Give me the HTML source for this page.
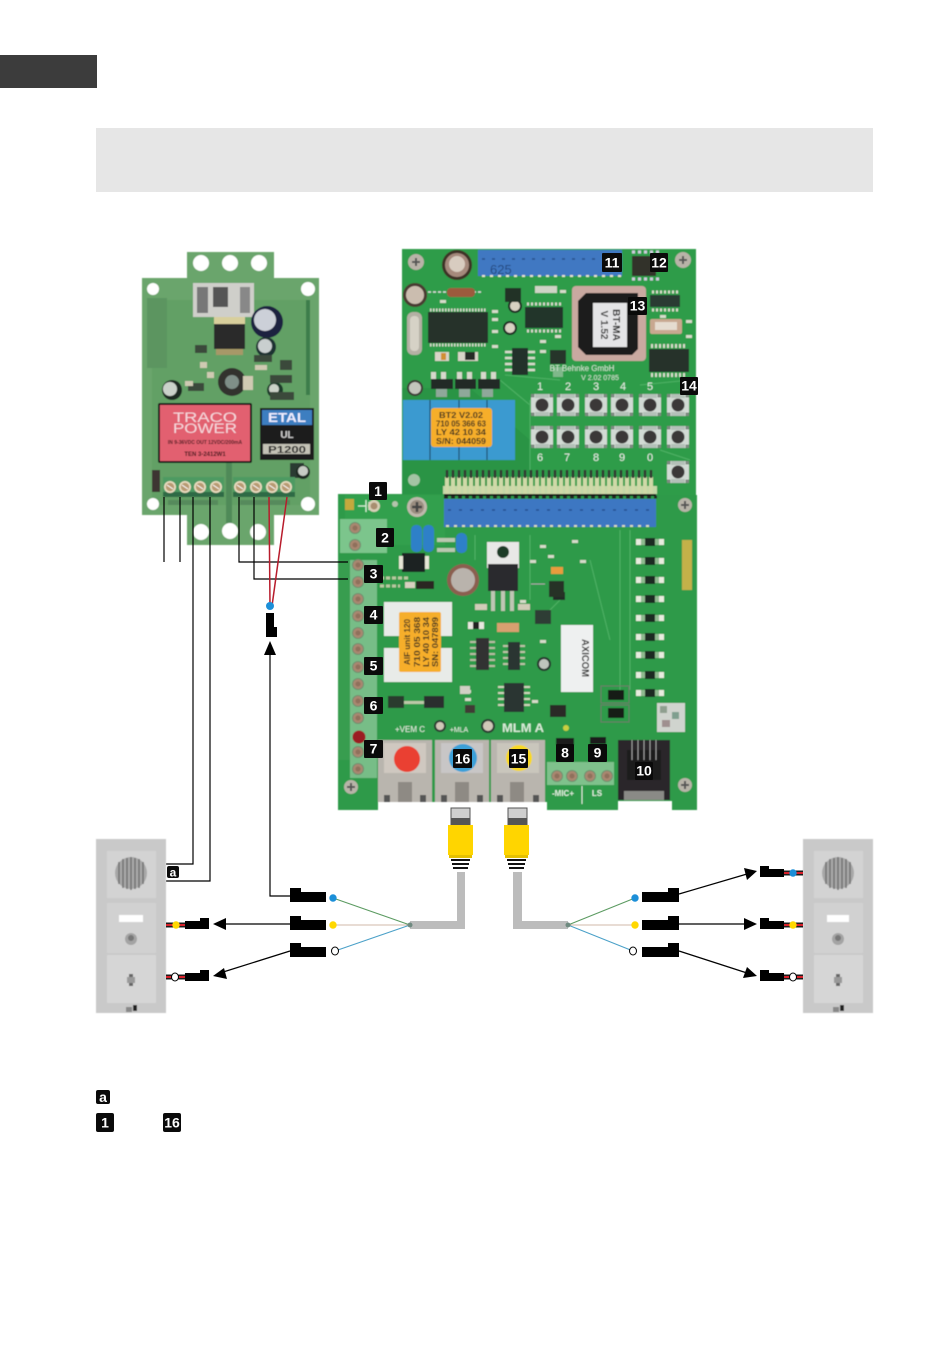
<!DOCTYPE html>
<html><head><meta charset="utf-8"><style>
html,body{margin:0;padding:0;background:#fff;width:950px;height:1348px;overflow:hidden}
svg{display:block}
text{font-family:"Liberation Sans",sans-serif}
.b{font-weight:bold;fill:#fff;font-size:14px;text-anchor:middle}
.w{fill:none;stroke:#000;stroke-width:1.2}
</style></head><body>
<svg width="950" height="1348" viewBox="0 0 950 1348" xmlns="http://www.w3.org/2000/svg">
<defs>
<filter id="s" x="-5%" y="-5%" width="110%" height="110%"><feGaussianBlur stdDeviation="0.45"/></filter>
<g id="screw"><circle r="6" fill="#e8dcc0"/><circle r="4.2" fill="#b89a72"/><path d="M-3 -2L3 2" stroke="#fff" stroke-width="1"/></g>
<g id="scr2"><circle r="6" fill="#6f8f6f"/><circle r="5" fill="#a9876f"/><circle r="2.5" fill="#8f6f5c"/></g>
<g id="btn"><rect x="-11" y="-11" width="22" height="22" fill="#dfe6e0"/><rect x="-7" y="-11" width="14" height="22" fill="#b4c0b8"/><rect x="-11" y="-7" width="22" height="14" fill="#d2dad4"/><g fill="#7d8a80"><rect x="-11" y="-11" width="3.500" height="3.500"/><rect x="7.500" y="-11" width="3.500" height="3.500"/><rect x="-11" y="7.500" width="3.500" height="3.500"/><rect x="7.500" y="7.500" width="3.500" height="3.500"/></g><circle r="6.5" fill="#3a3838"/></g>
<g id="cap"><circle r="12" fill="#4a3a38"/><circle r="10" fill="#9d8174"/><circle r="7" fill="#d5c9b8"/></g>
<g id="smd"><rect x="-14" y="-3" width="28" height="6" fill="#8fb98f"/><rect x="-5" y="-4" width="10" height="8" fill="#1d2b20"/><rect x="9" y="-3" width="5" height="6" fill="#e8ecdf"/><rect x="-14" y="-3" width="5" height="6" fill="#e8ecdf"/></g>
<g id="pinA"><rect x="-2" y="0" width="4" height="17" fill="#cfd9a8"/><rect x="-1.200" y="-7" width="2.400" height="8" fill="#333"/></g>
<g id="wire"><rect x="0" y="-2.500" width="19" height="5" fill="#1c1c1c"/><rect x="0" y="-1" width="19" height="2" fill="#d8202a"/></g>
<g id="pad"><rect width="6" height="3" fill="#d6dccb"/></g>
</defs>

<rect x="0" y="55" width="97" height="33" fill="#3c3c3c"/>
<rect x="96" y="128" width="777" height="64" fill="#e6e6e6"/>

<g filter="url(#s)">
<!-- LEFT BOARD -->
<path d="M187 252H274V278H319V515H274V545H187V515H142V278H187Z" fill="#6ba56c"/>
<rect x="152" y="300" width="158" height="205" fill="#62a065"/>
<rect x="147" y="298" width="20" height="70" fill="#5c9560"/>
<rect x="306" y="300" width="4" height="95" fill="#3d7d4c"/>
<g fill="#fff"><circle cx="201" cy="263" r="8"/><circle cx="230" cy="263" r="8"/><circle cx="259" cy="263" r="8"/><circle cx="153" cy="289" r="6"/><circle cx="308" cy="289" r="7"/><circle cx="153" cy="504" r="6"/><circle cx="308" cy="504" r="7"/><circle cx="201" cy="532" r="8"/><circle cx="230" cy="531" r="8"/><circle cx="258" cy="532" r="8"/></g>
<rect x="193" y="283" width="61" height="34" fill="#cfcfca"/>
<rect x="197" y="287" width="11" height="26" fill="#777"/><rect x="213" y="287" width="15" height="20" fill="#555"/><rect x="240" y="287" width="10" height="26" fill="#888"/>
<rect x="214" y="317" width="31" height="8" fill="#d8cf9c"/>
<rect x="214" y="324" width="31" height="25" fill="#2c2a2c"/>
<rect x="216" y="349" width="27" height="6" fill="#a69868"/>
<circle cx="267" cy="322" r="16" fill="#1c2440"/><circle cx="265" cy="320" r="11" fill="#ccd0d8"/>
<circle cx="266" cy="347" r="10" fill="#1d3230"/><circle cx="265" cy="346" r="7" fill="#c9cfcf"/>
<circle cx="232" cy="382" r="14" fill="#30302e"/><circle cx="232" cy="382" r="7" fill="#7f8f88"/>
<circle cx="172" cy="390" r="10" fill="#1d2a24"/><circle cx="170" cy="389" r="7" fill="#cad2ca"/>
<circle cx="275" cy="390" r="8" fill="#1d3a2c"/><circle cx="274" cy="389" r="5" fill="#ccd2c8"/>
<g fill="#3a4a3a"><rect x="254" y="355" width="18" height="7"/><rect x="270" y="375" width="22" height="8"/><rect x="280" y="360" width="12" height="10"/><rect x="195" y="345" width="12" height="8"/><rect x="188" y="383" width="16" height="8"/><rect x="270" y="392" width="24" height="8"/></g>
<g fill="#cfcab2"><rect x="255" y="365" width="12" height="5"/><rect x="200" y="362" width="7" height="6"/><rect x="207" y="372" width="7" height="6"/><rect x="243" y="376" width="10" height="14"/><rect x="185" y="381" width="8" height="5"/></g>
<rect x="158" y="403" width="94" height="60" rx="2" fill="#181213"/>
<rect x="160" y="405" width="90" height="56" fill="#e2606f"/>
<text x="205" y="422" font-size="13.500" text-anchor="middle" fill="#f5d8dd" textLength="64" lengthAdjust="spacingAndGlyphs">TRACO</text>
<text x="205" y="433" font-size="13.500" text-anchor="middle" fill="#f5d8dd" textLength="64" lengthAdjust="spacingAndGlyphs">POWER</text>
<text x="205" y="444" font-size="5" font-weight="bold" text-anchor="middle" fill="#4a1a20">IN 9-36VDC OUT 12VDC/200mA</text>
<text x="205" y="456" font-size="6" font-weight="bold" text-anchor="middle" fill="#3a1218">TEN 3-2412W1</text>
<rect x="260" y="408" width="54" height="52" fill="#1f1b1c"/>
<rect x="262" y="410" width="50" height="15" fill="#3d7ec0"/>
<text x="287" y="422" font-size="13" font-weight="bold" text-anchor="middle" fill="#eef" textLength="38" lengthAdjust="spacingAndGlyphs">ETAL</text>
<text x="287" y="438" font-size="10" font-weight="bold" text-anchor="middle" fill="#ccc">UL</text>
<rect x="263" y="444" width="47" height="10" fill="#c4c2b6"/>
<text x="287" y="453" font-size="10" font-weight="bold" text-anchor="middle" fill="#222" textLength="38" lengthAdjust="spacingAndGlyphs">P1200</text>
<rect x="290" y="463" width="14" height="15" fill="#2c3a30"/>
<circle cx="303" cy="472" r="7" fill="#1b2a22"/><circle cx="303" cy="471" r="5" fill="#c6ccc4"/>
<rect x="152" y="470" width="8" height="22" fill="#3d3530"/>
<rect x="226" y="463" width="6" height="60" fill="#4f8a58"/>
<rect x="163" y="477" width="61" height="20" fill="#4d9a62"/><rect x="163" y="492" width="61" height="5" fill="#2d6a44"/>
<rect x="233" y="477" width="62" height="20" fill="#4d9a62"/><rect x="233" y="492" width="62" height="5" fill="#2d6a44"/>
<use href="#screw" x="170" y="487"/><use href="#screw" x="185" y="487"/><use href="#screw" x="200" y="487"/><use href="#screw" x="216" y="487"/>
<use href="#screw" x="240" y="487"/><use href="#screw" x="256" y="487"/><use href="#screw" x="272" y="487"/><use href="#screw" x="286" y="487"/>
<rect x="168" y="500" width="50" height="5" fill="#568a5c"/><rect x="240" y="500" width="50" height="5" fill="#568a5c"/>

<!-- TOP RIGHT BOARD -->
<rect x="402" y="249" width="294" height="246" fill="#2f9c49"/>
<path d="M402 388L470 388L530 440V495H402Z" fill="#2b9444"/>
<path d="M500 380L530 405M505 375L560 380M640 385L690 380M530 400V470M660 450L690 460" stroke="#4fb266" stroke-width="1" fill="none"/>
<rect x="478" y="250" width="144" height="26" fill="#3f78c2"/>
<path d="M482 259H600" stroke="#274e88" stroke-width="1.500" stroke-dasharray="3 7"/>
<path d="M482 276H622" stroke="#e4e4d0" stroke-width="2" stroke-dasharray="3 5"/>
<text x="490" y="274" font-size="13" fill="#274a80">625</text>
<circle cx="416" cy="262" r="8" fill="#b9b3a8"/><path d="M412 262h8M416 258v8" stroke="#555" stroke-width="2"/>
<circle cx="683" cy="260" r="8" fill="#b9b3a8"/><path d="M679 260h8M683 256v8" stroke="#555" stroke-width="2"/>
<circle cx="457" cy="265" r="15" fill="#3d3028"/><circle cx="457" cy="265" r="12" fill="#a5897c"/><circle cx="457" cy="264" r="8" fill="#d8ccc0"/>
<circle cx="415" cy="295" r="12" fill="#4a3a30"/><circle cx="415" cy="295" r="9" fill="#cbbdaf"/>
<rect x="407" y="312" width="15" height="43" rx="6" fill="#b4b0a4"/><rect x="410" y="316" width="9" height="35" rx="4" fill="#d6d2c6"/>
<circle cx="415" cy="388" r="8" fill="#3a3a34"/><circle cx="415" cy="388" r="6" fill="#c2c6bc"/>
<path d="M428 292h55" stroke="#ddd" stroke-width="1.500" stroke-dasharray="3 2"/><rect x="447" y="288" width="28" height="9" rx="4" fill="#9c5a3c"/>
<rect x="428" y="312" width="60" height="31" fill="#26302a"/>
<path d="M430 310H487M430 345H487" stroke="#d4d8cc" stroke-width="3" stroke-dasharray="1.500 1.500"/>
<rect x="525" y="307" width="38" height="21" fill="#24342a"/>
<path d="M527 304H561M527 331H561" stroke="#d4d8cc" stroke-width="3" stroke-dasharray="2 2"/>
<circle cx="515" cy="306" r="7" fill="#1d2a22"/><circle cx="515" cy="306" r="5" fill="#d8d2c2"/>
<circle cx="510" cy="328" r="7" fill="#1d2a22"/><circle cx="510" cy="328" r="5" fill="#d8d2c2"/>
<path d="M505 352H535M505 358H535M505 364H535M505 370H535" stroke="#d8dccc" stroke-width="2.500"/><rect x="512" y="348" width="16" height="27" fill="#23302a"/>
<rect x="550" y="350" width="16" height="14" fill="#25342a"/><rect x="553" y="367" width="10" height="10" fill="#7fb88a"/>
<rect x="435" y="352" width="14" height="9" fill="#d8d4c8"/><rect x="441" y="353" width="5" height="7" fill="#d09030"/>
<rect x="458" y="352" width="20" height="9" fill="#d8d4c8"/><rect x="465" y="352" width="10" height="8" fill="#252a28"/>
<rect x="505" y="288" width="16" height="14" fill="#243228"/>
<rect x="535" y="286" width="22" height="7" fill="#cfd4c6"/>
<use href="#pad" x="492" y="310"/><use href="#pad" x="492" y="318"/><use href="#pad" x="492" y="345"/><use href="#pad" x="492" y="330"/><use href="#pad" x="540" y="340"/><use href="#pad" x="555" y="335"/><use href="#pad" x="540" y="350"/><use href="#pad" x="660" y="315"/><use href="#pad" x="686" y="320"/><use href="#pad" x="686" y="335"/><use href="#pad" x="560" y="290"/><use href="#pad" x="440" y="300"/>
<g fill="#d6d8cc"><rect x="431" y="372" width="5" height="7"/><rect x="441" y="372" width="5" height="7"/><rect x="457" y="372" width="5" height="7"/><rect x="467" y="372" width="5" height="7"/><rect x="481" y="372" width="5" height="7"/><rect x="491" y="372" width="5" height="7"/></g>
<rect x="431" y="379" width="22" height="10" fill="#232b26"/><rect x="455" y="379" width="21" height="10" fill="#232b26"/><rect x="478" y="379" width="22" height="10" fill="#232b26"/>
<g fill="#8fa89a"><rect x="436" y="389" width="11" height="8"/><rect x="459" y="389" width="11" height="8"/><rect x="482" y="389" width="11" height="8"/></g>
<rect x="403" y="400" width="112" height="60" fill="#3a9ad0"/>
<path d="M430 400V460M459 400V460M487 400V460" stroke="#1f4f70" stroke-width="1.200"/>
<rect x="431" y="408" width="61" height="39" rx="3" fill="#f6ae2c"/>
<g font-size="8.500" font-weight="bold" fill="#3a3020" text-anchor="middle">
<text x="461" y="418" textLength="44" lengthAdjust="spacingAndGlyphs">BT2 V2.02</text><text x="461" y="426.500" textLength="50" lengthAdjust="spacingAndGlyphs">710 05 366 63</text><text x="461" y="435" textLength="50" lengthAdjust="spacingAndGlyphs">LY 42 10 34</text><text x="461" y="444" textLength="50" lengthAdjust="spacingAndGlyphs">S/N: 044059</text></g>
<rect x="572" y="286" width="74" height="75" rx="4" fill="#c9a9a0"/>
<path d="M586 293H638V349L632 355H586L578 347V301Z" fill="#1b1a1c"/>
<rect x="593" y="303" width="34" height="44" fill="#e4e4e6"/>
<text transform="translate(610 325) rotate(90)" font-size="10" font-weight="bold" text-anchor="middle" fill="#222" y="-3">BT-MA</text>
<text transform="translate(610 325) rotate(90)" font-size="10" font-weight="bold" text-anchor="middle" fill="#333" y="9">V 1.52</text>
<rect x="650" y="295" width="30" height="12" fill="#2a3a30"/><path d="M652 292H678M652 310H678" stroke="#d8dccc" stroke-width="3" stroke-dasharray="2 2"/>
<rect x="650" y="319" width="32" height="15" rx="2" fill="#c8a890"/><rect x="655" y="322" width="22" height="8" fill="#e5dcd0"/>
<rect x="649" y="349" width="40" height="23" fill="#27332c"/>
<path d="M651 346H687M651 375H687" stroke="#d8dccc" stroke-width="4" stroke-dasharray="2 2"/>
<rect x="632" y="256" width="24" height="20" fill="#30302c"/>
<path d="M632 252H660M632 279H660" stroke="#ccd" stroke-width="3" stroke-dasharray="3 3"/>
<g fill="#e6efe6" font-size="11" text-anchor="middle"><text x="540" y="390">1</text><text x="568" y="390">2</text><text x="596" y="390">3</text><text x="623" y="390">4</text><text x="650" y="390">5</text><text x="540" y="461">6</text><text x="567" y="461">7</text><text x="596" y="461">8</text><text x="622" y="461">9</text><text x="650" y="461">0</text></g>
<text x="582" y="371" font-size="8" fill="#d6e8d6" text-anchor="middle">BT Behnke GmbH</text>
<text x="600" y="380" font-size="7" fill="#d6e8d6" text-anchor="middle">V 2.02 0785</text>
<use href="#btn" x="542" y="405"/><use href="#btn" x="568" y="405"/><use href="#btn" x="596" y="405"/><use href="#btn" x="622" y="405"/><use href="#btn" x="650" y="405"/><use href="#btn" x="678" y="405"/>
<use href="#btn" x="542" y="437"/><use href="#btn" x="568" y="437"/><use href="#btn" x="596" y="437"/><use href="#btn" x="622" y="437"/><use href="#btn" x="650" y="437"/><use href="#btn" x="678" y="437"/>
<use href="#btn" x="678" y="472"/>
<circle cx="414" cy="480" r="6" fill="#a4c4a4"/>
<rect x="443" y="486" width="214" height="8" fill="#c4d8a8"/>
<g><use href="#pinA" x="447" y="477"/><use href="#pinA" x="453" y="477"/><use href="#pinA" x="459" y="477"/><use href="#pinA" x="465" y="477"/><use href="#pinA" x="471" y="477"/><use href="#pinA" x="477" y="477"/><use href="#pinA" x="483" y="477"/><use href="#pinA" x="489" y="477"/><use href="#pinA" x="495" y="477"/><use href="#pinA" x="501" y="477"/><use href="#pinA" x="507" y="477"/><use href="#pinA" x="513" y="477"/><use href="#pinA" x="519" y="477"/><use href="#pinA" x="525" y="477"/><use href="#pinA" x="531" y="477"/><use href="#pinA" x="537" y="477"/><use href="#pinA" x="543" y="477"/><use href="#pinA" x="549" y="477"/><use href="#pinA" x="555" y="477"/><use href="#pinA" x="561" y="477"/><use href="#pinA" x="567" y="477"/><use href="#pinA" x="573" y="477"/><use href="#pinA" x="579" y="477"/><use href="#pinA" x="585" y="477"/><use href="#pinA" x="591" y="477"/><use href="#pinA" x="597" y="477"/><use href="#pinA" x="603" y="477"/><use href="#pinA" x="609" y="477"/><use href="#pinA" x="615" y="477"/><use href="#pinA" x="621" y="477"/><use href="#pinA" x="627" y="477"/><use href="#pinA" x="633" y="477"/><use href="#pinA" x="639" y="477"/><use href="#pinA" x="645" y="477"/><use href="#pinA" x="651" y="477"/></g>

<!-- MAIN BOARD -->
<path d="M338 494H444V495H697V810H672V801H618V810H547V802H378V810H338Z" fill="#2f9a48"/>
<rect x="345" y="495" width="100" height="50" fill="#30a04d"/>
<path d="M530 535V600M475 535V560M620 530V700M630 530V690M590 560L610 640M540 620L560 600" stroke="#4fb266" stroke-width="1" fill="none"/>
<rect x="444" y="494" width="212" height="2" fill="#111"/>
<path d="M444 497H657" stroke="#222" stroke-width="3" stroke-dasharray="4 3"/>
<rect x="444" y="499" width="212" height="28" fill="#3d77c2"/>
<path d="M448 510H650" stroke="#244f90" stroke-width="1.500" stroke-dasharray="3 8"/>
<path d="M446 526H654" stroke="#d6dcc0" stroke-width="2" stroke-dasharray="3 5"/>
<rect x="345" y="499" width="9" height="11" fill="#c4a93c"/>
<path d="M358 506h8M366 500v12M369 502v8" stroke="#d6f0d6" stroke-width="1.300"/>
<circle cx="374" cy="506" r="6" fill="#d8d0b8"/><circle cx="374" cy="506" r="3.500" fill="#a88e70"/>
<circle cx="395" cy="504" r="3" fill="#b4c4ac"/>
<circle cx="417" cy="507" r="10" fill="#bfb8ac"/><circle cx="417" cy="507" r="7" fill="#9a8d80"/><path d="M412 507h10M417 502v10" stroke="#444" stroke-width="2.500"/>
<circle cx="685" cy="505" r="7" fill="#b8b4a8"/><path d="M681 505h8M685 501v8" stroke="#555" stroke-width="2"/>
<circle cx="351" cy="787" r="7" fill="#b8b4a8"/><path d="M347 787h8M351 783v8" stroke="#555" stroke-width="2"/>
<circle cx="685" cy="785" r="7" fill="#b8b4a8"/><path d="M681 785h8M685 781v8" stroke="#555" stroke-width="2"/>
<rect x="340" y="519" width="47" height="34" fill="#7cc58c"/>
<use href="#scr2" x="355" y="528"/><use href="#scr2" x="355" y="545"/>
<rect x="411" y="525" width="11" height="27" rx="5" fill="#2f80c8"/><rect x="423" y="525" width="11" height="27" rx="5" fill="#2f80c8"/><rect x="456" y="533" width="11" height="20" rx="5" fill="#2f80c8"/>
<rect x="402" y="553" width="23" height="19" fill="#1d2421"/>
<rect x="399" y="556" width="4" height="13" fill="#e6e6d6"/><rect x="425" y="556" width="4" height="13" fill="#e6e6d6"/>
<rect x="437" y="538" width="18" height="4" fill="#b9c8b0"/><rect x="437" y="548" width="18" height="4" fill="#b9c8b0"/>
<rect x="350" y="560" width="27" height="218" fill="#77bd87"/>
<g><use href="#scr2" x="358" y="565"/><use href="#scr2" x="358" y="582"/><use href="#scr2" x="358" y="599"/><use href="#scr2" x="358" y="616"/><use href="#scr2" x="358" y="633"/><use href="#scr2" x="358" y="649"/><use href="#scr2" x="358" y="667"/><use href="#scr2" x="358" y="684"/><use href="#scr2" x="358" y="701"/><use href="#scr2" x="358" y="718"/><use href="#scr2" x="358" y="752"/><use href="#scr2" x="358" y="769"/></g>
<rect x="338" y="560" width="12" height="200" fill="#389d50"/>
<circle cx="359" cy="737" r="6.500" fill="#9b1c22"/>
<path d="M380 578h30M380 586h20" stroke="#b8c8a0" stroke-width="3" stroke-dasharray="4 2"/><rect x="416" y="581" width="18" height="8" fill="#2a2623"/><rect x="405" y="582" width="10" height="6" fill="#d8d0c0"/>
<circle cx="463" cy="580" r="16" fill="#8b5e50"/><circle cx="463" cy="580" r="12" fill="#b9b3ac"/>
<rect x="487" y="542" width="32" height="26" fill="#e8e8e6"/><circle cx="503" cy="552" r="6" fill="#1c3a28"/>
<rect x="488" y="564" width="30" height="27" fill="#2c2c2e"/>
<g fill="#bfc6b4"><rect x="491" y="591" width="4" height="20"/><rect x="501" y="591" width="4" height="20"/><rect x="510" y="591" width="4" height="20"/></g>
<rect x="475" y="604" width="12" height="6" fill="#d0ccb8"/><rect x="518" y="604" width="12" height="6" fill="#d0ccb8"/>
<rect x="384" y="602" width="68" height="34" fill="#e8ebe8"/><rect x="384" y="648" width="68" height="34" fill="#e8ebe8"/>
<rect x="399" y="612" width="42" height="60" rx="2" fill="#f6ae2c"/>
<g font-size="8.500" font-weight="bold" fill="#3a3020" text-anchor="middle">
<text transform="translate(410 642) rotate(-90)" textLength="46" lengthAdjust="spacingAndGlyphs">AIF unit 120</text>
<text transform="translate(420 642) rotate(-90)" textLength="50" lengthAdjust="spacingAndGlyphs">710 05 368</text>
<text transform="translate(429 642) rotate(-90)" textLength="50" lengthAdjust="spacingAndGlyphs">LY 40 10 34</text>
<text transform="translate(438 642) rotate(-90)" textLength="50" lengthAdjust="spacingAndGlyphs">SN: 047899</text></g>
<path d="M470 642H495M470 648H495M470 654H495M470 660H495M470 666H495" stroke="#b8bca4" stroke-width="2"/><rect x="476" y="638" width="13" height="32" fill="#333032"/>
<path d="M503 646H525M503 652H525M503 658H525M503 664H525" stroke="#bcc4a8" stroke-width="2"/><rect x="508" y="642" width="12" height="28" fill="#2c3430"/>
<path d="M498 687H530M498 693H530M498 699H530M498 705H530" stroke="#cfd4bc" stroke-width="2"/><rect x="504" y="683" width="20" height="29" fill="#2c3430"/>
<rect x="497" y="623" width="22" height="9" fill="#d8a070"/><rect x="468" y="622" width="16" height="7" fill="#e8e8e0"/><rect x="473" y="622" width="6" height="7" fill="#222"/>
<circle cx="544" cy="664" r="7" fill="#27352d"/><circle cx="544" cy="664" r="5" fill="#bec4bc"/>
<rect x="535" y="610" width="16" height="14" fill="#2e3c34"/><path d="M531 584H545" stroke="#aaa" stroke-width="1"/>
<rect x="551" y="567" width="12" height="7" fill="#e89c3c"/><rect x="553" y="592" width="12" height="8" fill="#222a25"/>
<rect x="549" y="581" width="15" height="16" fill="#263028"/>
<use href="#pad" x="540" y="545"/><use href="#pad" x="548" y="555"/><use href="#pad" x="530" y="560"/><use href="#pad" x="572" y="540"/><use href="#pad" x="580" y="560"/><use href="#pad" x="520" y="600"/><use href="#pad" x="465" y="690"/><use href="#pad" x="465" y="698"/><use href="#pad" x="532" y="700"/><use href="#pad" x="540" y="640"/>
<rect x="561" y="625" width="32" height="67" fill="#eef0f0"/>
<text transform="translate(580 658) rotate(90)" font-size="10.500" font-weight="bold" text-anchor="middle" fill="#2a2a2a" y="-2" textLength="38" lengthAdjust="spacingAndGlyphs">AXICOM</text>
<rect x="550" y="705" width="16" height="12" fill="#2c2c28"/>
<rect x="608" y="690" width="16" height="10" fill="#181a18"/><rect x="608" y="708" width="16" height="10" fill="#181a18"/>
<rect x="601" y="686" width="28" height="17" fill="none" stroke="#6a7a6a"/><rect x="601" y="705" width="28" height="17" fill="none" stroke="#6a7a6a"/>
<use href="#smd" x="650" y="542"/><use href="#smd" x="650" y="561"/><use href="#smd" x="650" y="580"/><use href="#smd" x="650" y="599"/><use href="#smd" x="650" y="618"/><use href="#smd" x="650" y="637"/><use href="#smd" x="650" y="655"/><use href="#smd" x="650" y="675"/><use href="#smd" x="650" y="693"/>
<rect x="682" y="540" width="10" height="50" fill="#c3b14a"/>
<rect x="657" y="703" width="28" height="29" fill="#d0d4ce"/>
<rect x="660" y="706" width="7" height="7" fill="#8f9f8f"/><rect x="672" y="712" width="7" height="7" fill="#7f9f8f"/><rect x="662" y="720" width="8" height="7" fill="#9f8f8f"/>
<rect x="388" y="696" width="16" height="12" fill="#2c3a2e"/><rect x="424" y="696" width="20" height="12" fill="#2c2f2d"/><rect x="404" y="701" width="20" height="3" fill="#bcc8a8"/>
<rect x="460" y="686" width="10" height="8" fill="#d0d0c4"/><rect x="465" y="705" width="10" height="8" fill="#403a34"/>
<circle cx="440" cy="726" r="6" fill="#2a3a30"/><circle cx="440" cy="726" r="4" fill="#d0c8b8"/>
<circle cx="488" cy="726" r="7" fill="#2a3a30"/><circle cx="488" cy="726" r="5" fill="#d0c8b8"/>
<text x="410" y="732" font-size="8" fill="#e8f2e6" text-anchor="middle">+VEM C</text>
<text x="459" y="732" font-size="7" fill="#e8f2e6" text-anchor="middle">+MLA</text>
<text x="523" y="732" font-size="12" font-weight="bold" fill="#d8ecd8" text-anchor="middle" textLength="42" lengthAdjust="spacingAndGlyphs">MLM A</text>
<rect x="378" y="740" width="54" height="62" fill="#b9b5ae"/><rect x="435" y="740" width="54" height="62" fill="#b9b5ae"/><rect x="491" y="740" width="54" height="62" fill="#b9b5ae"/>
<rect x="384" y="743" width="42" height="30" fill="#cfc8c0"/><rect x="441" y="743" width="42" height="30" fill="#c8c6c6"/><rect x="497" y="743" width="42" height="30" fill="#c9c6bc"/>
<g fill="#8e8a84"><rect x="398" y="782" width="14" height="20"/><rect x="455" y="782" width="14" height="20"/><rect x="510" y="782" width="14" height="20"/></g>
<g fill="#555"><rect x="384" y="795" width="6" height="7"/><rect x="420" y="795" width="6" height="7"/><rect x="441" y="795" width="6" height="7"/><rect x="477" y="795" width="6" height="7"/><rect x="497" y="795" width="6" height="7"/><rect x="533" y="795" width="6" height="7"/></g>
<circle cx="407" cy="759" r="13" fill="#ea4030"/><circle cx="463" cy="758" r="14" fill="#3aa0d8"/><circle cx="519" cy="758" r="13" fill="#f8d820"/>
<rect x="547" y="762" width="35" height="23" fill="#7fc18c"/><rect x="582" y="762" width="32" height="23" fill="#7fc18c"/>
<use href="#scr2" x="557" y="776"/><use href="#scr2" x="572" y="776"/><use href="#scr2" x="590" y="776"/><use href="#scr2" x="607" y="776"/>
<text x="563" y="796" font-size="8" font-weight="bold" fill="#dff0df" text-anchor="middle">-MIC+</text><text x="597" y="796" font-size="8" font-weight="bold" fill="#dff0df" text-anchor="middle">LS</text>
<path d="M582 786V804" stroke="#d8ecd8"/>
<rect x="556" y="738" width="18" height="7" fill="#1a1f1b"/><rect x="590" y="737" width="16" height="7" fill="#1a1f1b"/>
<circle cx="566" cy="728" r="3" fill="#c9d040"/>
<rect x="618" y="740" width="52" height="60" fill="#2a2829"/>
<rect x="627" y="750" width="34" height="30" fill="#1c1a1c"/>
<path d="M632 740V760M638 740V760M644 740V760M650 740V760M656 740V760" stroke="#9a9a9a" stroke-width="1"/>
<rect x="624" y="791" width="40" height="9" fill="#8a8a86"/>
</g>

<!-- WIRES -->
<g class="w">
<path d="M164 497V562M180 497V562"/>
<path d="M193 497V864H166"/>
<path d="M210 497V881H166"/>
<path d="M239 497V562H348"/>
<path d="M254 497V579H348"/>
<path d="M270 650V896H290"/>
<path d="M290 924H222"/>
<path d="M290 951L220 973"/>
<path d="M679 894L747 874"/>
<path d="M679 924H747"/>
<path d="M679 951L747 973"/>
</g>
<path d="M269 497L270 606M287 497L272 606" stroke="#b81c2c" stroke-width="1.500" fill="none"/>
<circle cx="270" cy="606" r="4" fill="#1c8fd8"/>
<path d="M266 613H274V627H277V637H266Z" fill="#000"/>
<g fill="#000">
<path d="M270 641L276 655H264Z"/>
<path d="M213 924L226 918V930Z"/>
<path d="M213 976L224 968L227 979Z"/>
<path d="M757 871L744 868L747 880Z"/>
<path d="M757 924L744 918V930Z"/>
<path d="M757 976L747 967L743 978Z"/>
</g>

<!-- CABLES -->
<rect x="451" y="808" width="19" height="17" fill="#cfcfcf" stroke="#555" stroke-width="1"/><rect x="451" y="818" width="19" height="7" fill="#555"/>
<rect x="448" y="825" width="25" height="30" fill="#ffd500"/>
<rect x="449" y="855" width="23" height="3" fill="#e4c000"/>
<path d="M451 860H470M452 864H469M453 868H468" stroke="#111" stroke-width="2"/>
<rect x="457" y="872" width="8" height="57" fill="#bcbcbc"/><rect x="410" y="921" width="55" height="8" fill="#bcbcbc"/>
<rect x="508" y="808" width="19" height="17" fill="#cfcfcf" stroke="#555" stroke-width="1"/><rect x="508" y="818" width="19" height="7" fill="#555"/>
<rect x="504" y="825" width="25" height="30" fill="#ffd500"/>
<rect x="505" y="855" width="23" height="3" fill="#e4c000"/>
<path d="M507 860H526M508 864H525M509 868H524" stroke="#111" stroke-width="2"/>
<rect x="513" y="872" width="9" height="57" fill="#bcbcbc"/><rect x="513" y="921" width="55" height="8" fill="#bcbcbc"/>
<g fill="none" stroke-width="1">
<path d="M333 898L410 925M568 925L635 898" stroke="#5a9a60"/>
<path d="M333 925H410M568 925H635" stroke="#d0b8a8"/>
<path d="M335 951L410 925M568 925L633 951" stroke="#4aa0c8"/>
</g>
<circle cx="410" cy="925" r="2.500" fill="#6f8a80"/><circle cx="568" cy="925" r="2.500" fill="#6f8a80"/>
<!-- connectors -->
<g fill="#000">
<path d="M290 888H301V892H326V902H290Z"/><path d="M290 916H301V920H326V930H290Z"/><path d="M290 943H301V947H326V957H290Z"/>
<path d="M642 892H668V888H679V902H642Z"/><path d="M642 920H668V916H679V930H642Z"/><path d="M642 947H668V943H679V957H642Z"/>
<path d="M760 866H769V869H784V877H760Z"/><path d="M760 918H769V921H784V929H760Z"/><path d="M760 970H769V973H784V981H760Z"/>
<path d="M185 921H200V918H209V929H185Z"/><path d="M185 973H200V970H209V981H185Z"/>
</g>
<circle cx="333" cy="898" r="3.700" fill="#1c8fd8"/><circle cx="333" cy="925" r="3.700" fill="#ffd800"/><ellipse cx="335" cy="951" rx="3.500" ry="4" fill="#fff" stroke="#000"/>
<circle cx="635" cy="898" r="3.700" fill="#1c8fd8"/><circle cx="635" cy="925" r="3.700" fill="#ffd800"/><ellipse cx="633" cy="951" rx="3.500" ry="4" fill="#fff" stroke="#000"/>

<!-- PANELS -->
<g filter="url(#s)">
<rect x="96" y="839" width="70" height="174" fill="#c9c9c9"/>
<rect x="107" y="851" width="49" height="47" fill="#d3d3d3"/>
<rect x="107" y="903" width="49" height="50" fill="#d1d1d1"/>
<rect x="107" y="955" width="49" height="48" fill="#d6d6d6"/>
<circle cx="131" cy="873" r="16" fill="#a8a8a8"/>
<path d="M119 862V884M123 859V888M127 858V889M131 857V890M135 858V889M139 859V888M143 862V884" stroke="#707070" stroke-width="1.500"/>
<rect x="119" y="915" width="24" height="7" fill="#fff"/>
<circle cx="131" cy="939" r="6" fill="#a4a4a4"/><circle cx="131" cy="938" r="3" fill="#787878"/>
<rect x="129" y="974" width="4" height="12" fill="#666"/><rect x="127" y="977" width="8" height="6" fill="#999"/>
<rect x="126" y="1007" width="6" height="5" fill="#888"/><rect x="133" y="1005" width="4" height="6" fill="#222"/>
<rect x="803" y="839" width="70" height="174" fill="#c9c9c9"/>
<rect x="814" y="851" width="49" height="47" fill="#d3d3d3"/>
<rect x="814" y="903" width="49" height="50" fill="#d1d1d1"/>
<rect x="814" y="955" width="49" height="48" fill="#d6d6d6"/>
<circle cx="838" cy="873" r="16" fill="#a8a8a8"/>
<path d="M826 862V884M830 859V888M834 858V889M838 857V890M842 858V889M846 859V888M850 862V884" stroke="#707070" stroke-width="1.500"/>
<rect x="827" y="915" width="22" height="7" fill="#fff"/>
<circle cx="838" cy="939" r="6" fill="#a4a4a4"/><circle cx="838" cy="938" r="3" fill="#787878"/>
<rect x="836" y="974" width="4" height="12" fill="#666"/><rect x="834" y="977" width="8" height="6" fill="#999"/>
<rect x="833" y="1007" width="6" height="5" fill="#888"/><rect x="840" y="1005" width="4" height="6" fill="#222"/>
</g>
<use href="#wire" x="166" y="925"/><use href="#wire" x="166" y="977"/>
<use href="#wire" x="784" y="873"/><use href="#wire" x="784" y="925"/><use href="#wire" x="784" y="977"/>
<circle cx="176" cy="925" r="3.700" fill="#ffd800"/><ellipse cx="175" cy="977" rx="3.500" ry="4" fill="#fff" stroke="#000"/>
<circle cx="793" cy="873" r="3.700" fill="#1c8fd8"/><circle cx="793" cy="925" r="3.700" fill="#ffd800"/><ellipse cx="793" cy="977" rx="3.500" ry="4" fill="#fff" stroke="#000"/>

<!-- BADGES -->
<g fill="#0a0a0a">
<rect x="369" y="482" width="18" height="18" rx="1"/><rect x="376" y="528" width="18" height="19" rx="1"/><rect x="364" y="565" width="19" height="18" rx="1"/><rect x="364" y="606" width="19" height="18" rx="1"/><rect x="364" y="657" width="19" height="18" rx="1"/><rect x="364" y="697" width="19" height="17" rx="1"/><rect x="364" y="740" width="19" height="18" rx="1"/>
<rect x="556" y="744" width="18" height="18" rx="1"/><rect x="588" y="744" width="19" height="18" rx="1"/><rect x="635" y="762" width="18" height="18" rx="1"/>
<rect x="602" y="253" width="20" height="19" rx="1"/><rect x="650" y="253" width="18" height="19" rx="1"/><rect x="628" y="297" width="19" height="18" rx="1"/><rect x="680" y="377" width="18" height="18" rx="1"/>
<rect x="509" y="749" width="19" height="19" rx="1"/><rect x="453" y="749" width="19" height="19" rx="1"/>
<rect x="167" y="866" width="12" height="12" rx="2"/>
<rect x="96" y="1090" width="14" height="14" rx="2"/><rect x="96" y="1113" width="18" height="19" rx="2"/><rect x="163" y="1113" width="18" height="19" rx="2"/>
</g>
<g class="b" transform="translate(0 .5)">
<text x="378" y="495.500">1</text><text x="385" y="542">2</text><text x="373.500" y="578">3</text><text x="373.500" y="619">4</text><text x="373.500" y="670">5</text><text x="373.500" y="710">6</text><text x="373.500" y="753">7</text>
<text x="565" y="757">8</text><text x="597.500" y="757">9</text><text x="644" y="775">10</text>
<text x="612" y="267">11</text><text x="659" y="267">12</text><text x="637.500" y="310">13</text><text x="689" y="390">14</text>
<text x="518.500" y="763">15</text><text x="462.500" y="763">16</text>
<text x="173" y="876" font-size="12">a</text>
<text x="103" y="1101.500" font-size="14">a</text><text x="105" y="1127">1</text><text x="172" y="1127">16</text>
</g>
</svg>
</body></html>
